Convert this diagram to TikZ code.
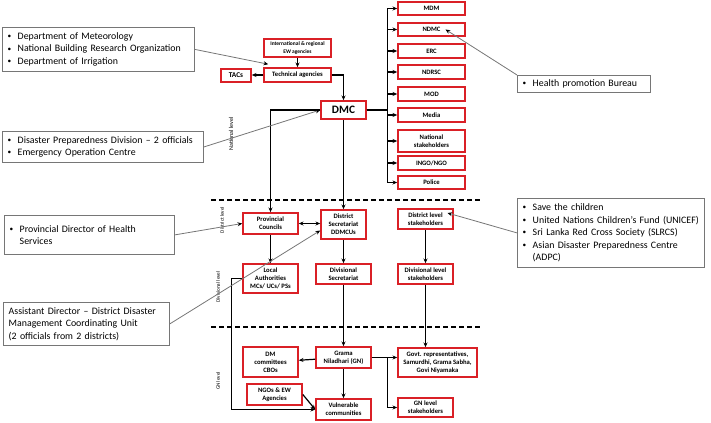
\documentclass[tikz,border=0pt]{standalone}
\usepackage{amsmath}
\usepackage{fontspec}
\setmainfont{Carlito}
\usetikzlibrary{arrows.meta}

\definecolor{boxred}{RGB}{218,32,38}
\definecolor{notegray}{RGB}{118,118,118}
\newcommand{\bul}{\makebox[7.5pt][l]{\raisebox{0.6pt}{\fontsize{5.5}{5.5}\selectfont\textbullet}}}
\newcommand{\ind}{\hspace*{7.5pt}}

\begin{document}
\begin{tikzpicture}[x=0.75pt,y=0.75pt,yscale=-1,xscale=1,
  wh/.style 2 args={minimum width=#1*0.75pt,minimum height=#2*0.75pt},
  redbox/.style={draw=boxred,line width=1.2pt,fill=white,inner sep=0pt,align=center,font=\bfseries\fontsize{5}{6}\selectfont},
  notebox/.style={draw=notegray,line width=0.6pt,fill=white,anchor=north west,inner xsep=4pt,inner ysep=0pt,align=left,font=\fontsize{7.4}{9.4}\selectfont},
  lvl/.style={rotate=90,inner sep=0pt,font=\fontsize{3.9}{4.5}\selectfont},
  arr/.style={line width=0.9pt,-{Stealth[length=3.5pt,width=3pt]}},
  darr/.style={line width=0.9pt,{Stealth[length=3.5pt,width=3pt]}-{Stealth[length=3.5pt,width=3pt]}},
  notearr/.style={draw=notegray,line width=0.6pt,-{Stealth[length=3.5pt,width=3pt,color=black]}},
  levelline/.style={line width=1pt,dash pattern=on 3.5pt off 2.5pt}
]
\useasboundingbox (0,0) rectangle (711,423);

%Dashed Lines
\draw [levelline] (211,200) -- (481,200);
\draw [levelline] (211,327) -- (481,327);

% Text Node
\node [lvl,font=\fontsize{4.5}{5}\selectfont] (natlvl) at (231,134) {National level};
\node [lvl] (dislvl) at (222,220) {District level};
\node [lvl] (divlvl) at (218,287) {Divisional level};
\node [lvl] (gnlvl) at (218,381) {GN level};

% National level
\node [redbox,wh={67}{18},font=\bfseries\fontsize{4.1}{6}\selectfont] (intl) at (297.5,48) {International \& regional\\EW agencies};
\node [redbox,wh={67}{14}] (tech) at (297.5,75) {Technical agencies};
\node [redbox,wh={30}{13},font=\bfseries\fontsize{5.5}{6.5}\selectfont] (tacs) at (236,75.5) {TACs};
\node [redbox,wh={45}{18},font=\bfseries\fontsize{8.5}{10}\selectfont] (dmc) at (343.5,110) {DMC};

\node [redbox,wh={67}{13}] (mdm) at (431.5,8.5) {MDM};
\node [redbox,wh={67}{13}] (ndmc) at (431.5,29.5) {NDMC};
\node [redbox,wh={67}{14}] (erc) at (431.5,51) {ERC};
\node [redbox,wh={67}{14}] (ndrsc) at (431.5,72) {NDRSC};
\node [redbox,wh={67}{14}] (mod) at (431.5,94) {MOD};
\node [redbox,wh={67}{14}] (media) at (431.5,115) {Media};
\node [redbox,wh={67}{22}] (natst) at (431.5,141) {National\\stakeholders};
\node [redbox,wh={67}{14}] (ingo) at (431.5,163) {INGO/NGO};
\node [redbox,wh={67}{13}] (police) at (431.5,182.5) {Police};

% District level
\node [redbox,wh={55}{21}] (pc) at (270.5,223.5) {Provincial\\Councils};
\node [redbox,wh={45}{29}] (dsec) at (343.5,224.5) {District\\Secretariat\\DDMCUs};
\node [redbox,wh={55}{20}] (dls) at (425.5,219) {District level\\stakeholders};

% Divisional level
\node [redbox,wh={55}{29}] (la) at (270.5,278.5) {Local\\Authorities\\MCs/ UCs/ PSs};
\node [redbox,wh={55}{20}] (divsec) at (343.5,274) {Divisional\\Secretariat};
\node [redbox,wh={55}{20}] (divls) at (425.5,274) {Divisional level\\stakeholders};

% GN level
\node [redbox,wh={55}{30}] (dmcom) at (270.5,362) {DM\\committees\\CBOs};
\node [redbox,wh={55}{21}] (gn) at (343.5,357.5) {Grama\\Niladhari (GN)};
\node [redbox,wh={79}{29}] (govt) at (437.5,362.5) {Govt. representatives,\\Samurdhi, Grama Sabha,\\Govi Niyamaka};
\node [redbox,wh={55}{21}] (ngo) at (274.5,394.5) {NGOs \& EW\\Agencies};
\node [redbox,wh={55}{21}] (vc) at (343.5,409.5) {Vulnerable\\communities};
\node [redbox,wh={55}{19}] (gnls) at (425.5,407.5) {GN level\\stakeholders};

%Straight Lines
\draw [arr] (intl) -- (tech);
\draw [arr] (tech.west) -- (tech.west -| tacs.east);
\draw [arr] (tech.east) -| (dmc.north);
\draw [arr] (dmc.east) -- ++(20.5,0) |- (mdm.west);
\draw [arr] (dmc.east) -- ++(20.5,0) |- (ndmc.west);
\draw [arr] (dmc.east) -- ++(20.5,0) |- (erc.west);
\draw [arr] (dmc.east) -- ++(20.5,0) |- (ndrsc.west);
\draw [arr] (dmc.east) -- ++(20.5,0) |- (mod.west);
\draw [arr] (dmc.east) -- ++(20.5,0) |- (media.west);
\draw [arr] (dmc.east) -- ++(20.5,0) |- (natst.west);
\draw [arr] (dmc.east) -- ++(20.5,0) |- (ingo.west);
\draw [arr] (dmc.east) -- ++(20.5,0) |- (police.west);
\draw [arr] (dmc.west) -| (pc.north);
\draw [arr] (dmc) -- (dsec);
\draw [darr] (pc.east) -- (pc.east -| dsec.west);
\draw [arr] (pc) -- (la);
\draw [arr] (dsec) -- (divsec);
\draw [arr] (dls) -- (divls);
\draw [arr] (divsec) -- (gn);
\draw [arr] (gn) -- (dmcom);
\draw [arr] (gn) -- (vc);
\draw [arr] (gn.east) -- (gn.east -| govt.west);
\draw [arr] (gn.east) -- ++(16,0) |- (gnls.west);
\draw [arr] (divls.south) -- (divls.south |- govt.north);
\draw [arr] (ngo.east) -- (vc.west);
\draw [arr] (la.west) -- ++(-11,0) |- (vc.west);

% Notes
\node [notebox,text width=136pt,minimum height=33pt] (met) at (2,27) {\bul Department of Meteorology\\ \bul National Building Research Organization\\ \bul Department of Irrigation};
\node [notebox,text width=143pt,minimum height=23.25pt] (dpd) at (2,131) {\bul Disaster Preparedness Division -- 2 officials\\ \bul Emergency Operation Centre};
\node [notebox,text width=92pt,minimum height=12.75pt] (hpb) at (517,75) {\bul Health promotion Bureau};
\node [notebox,text width=119.5pt,minimum height=29.25pt] (pdhs) at (4,215) {\bul Provincial Director of Health\\ \ind Services};
\node [notebox,text width=132.5pt,minimum height=51.75pt] (ngos) at (517,198) {\bul Save the children\\ \bul \mbox{United Nations Children's Fund (UNICEF)}\\ \bul Sri Lanka Red Cross Society (SLRCS)\\ \bul Asian Disaster Preparedness Centre\\ \ind (ADPC)};
\node [notebox,text width=116.5pt,minimum height=32.25pt] (addm) at (3,302) {Assistant Director -- District Disaster\\Management Coordinating Unit\\(2 officials from 2 districts)};

\draw [notearr] (met.east) -- ([shift={(5,-3)}]tech.north west);
\draw [notearr] (dpd.east) -- (dmc.west);
\draw [notearr] (hpb.north west) -- ([shift={(14,0)}]ndmc.center);
\draw [notearr] (pdhs.east) -- (pc.west);
\draw [notearr] (ngos.west) -- ([shift={(22,-6)}]dls.center);
\draw [notearr] (addm.east) -- ([shift={(0,6)}]dsec.west);

\end{tikzpicture}
\end{document}
